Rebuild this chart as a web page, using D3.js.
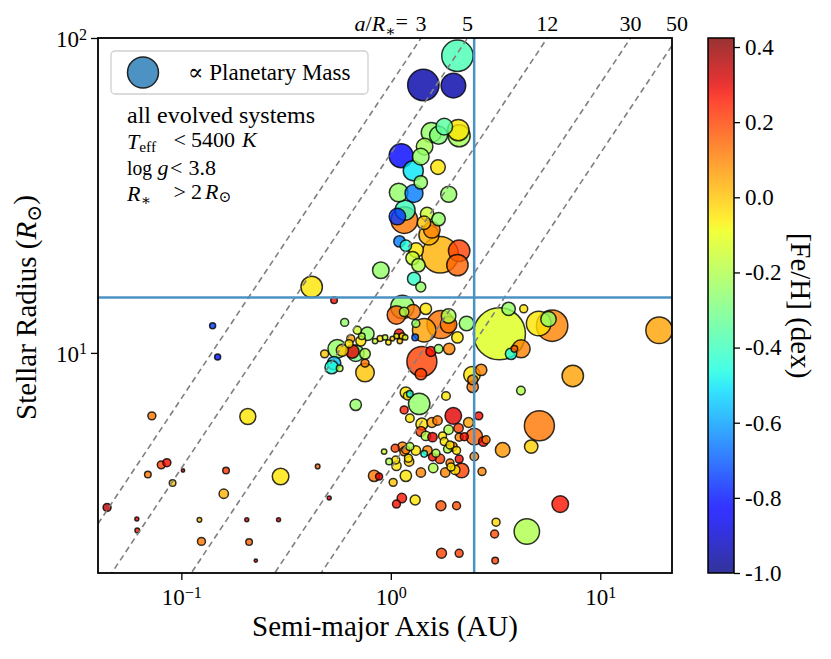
<!DOCTYPE html>
<html>
<head>
<meta charset="utf-8">
<script src="https://cdn.jsdelivr.net/npm/d3@7"></script>
<style>
  body { margin: 0; background: #fff; }
  svg text { font-family: "Liberation Serif", "DejaVu Serif", serif; }
</style>
</head>
<body>
<script>
// planets: semi-major axis (AU), host radius (Rsun), mass (~MJup), host [Fe/H]
const semiMajorAU = [
  2.08, 1.43, 1.99, 2.12, 2.10, 1.56, 1.80, 1.69, 1.45, 1.12, 1.39, 1.28, 1.68, 1.39, 1.09, 1.29, 1.89,
  1.16, 1.17, 1.075, 1.49, 1.69, 1.44, 1.57, 1.52, 1.72, 2.12, 2.08, 1.10, 1.18, 1.32, 1.27, 1.355,
  1.29, 0.896, 1.39, 0.419, 0.536,
  1.136, 1.064, 1.158, 1.278, 1.47, 1.735, 1.887, 1.887, 2.30, 1.443, 1.317, 1.307, 2.08, 1.90, 1.407,
  1.554, 1.69, 1.392, 3.30, 3.65, 4.31, 5.89, 5.08, 5.66, 4.19, 3.75, 3.89, 19.1, 7.39, 4.18, 2.44,
  2.70, 2.46, 2.46,
  0.602, 0.555, 0.773, 0.692, 0.719, 0.644, 0.680, 0.655, 0.587, 0.753, 0.753, 0.483, 0.536, 0.522,
  0.570, 0.753, 0.632, 0.727, 0.841, 0.889, 0.939, 0.974, 1.018, 1.064, 1.096, 1.136, 1.171, 1.104,
  0.141, 0.149, 0.0723, 0.2076, 0.680, 0.0802, 0.0853, 0.0692, 0.1018, 0.1634, 0.2977, 0.4474, 0.832,
  0.0908, 0.1594, 0.0442, 0.0613, 0.0616, 0.122, 0.2053, 0.2911, 0.508, 0.1247, 0.2106, 0.2267,
  1.18, 1.233, 1.20, 1.366, 1.834, 1.158, 1.233, 1.987, 2.63, 1.407, 1.571, 1.671, 2.35, 1.887, 2.106,
  2.504, 2.765, 2.85, 1.392, 1.47, 1.581, 1.766, 1.799, 2.12, 2.243, 5.12, 3.42, 4.68,
  0.929, 1.049, 1.136, 1.18, 1.233, 1.317, 1.443, 1.496, 1.581, 1.642, 1.716, 1.866, 1.916, 2.06, 1.971,
  2.12, 2.504, 0.981, 1.056, 1.064, 1.214, 1.223, 1.158, 1.916, 1.937, 2.03, 1.819, 1.594, 1.392,
  2.177, 2.725, 1.18, 1.026, 0.879, 1.129, 1.064, 1.307, 1.735, 2.06, 6.44, 3.18, 3.13, 4.46, 1.746,
  2.12, 3.15
];
const stellarRadius = [
  87.8, 70.9, 70.6, 48.9, 51.0, 50.1, 52.3, 49.1, 45.2, 42.3, 42.0, 37.9, 38.9, 34.8, 32.3, 32.1, 31.9,
  26.4, 28.4, 27.1, 27.6, 26.6, 25.9, 24.6, 23.7, 20.5, 21.1, 19.0, 22.6, 21.9, 21.2, 20.0, 19.0,
  17.2, 18.3, 16.2, 16.2, 14.7,
  14.0, 13.2, 13.5, 13.5, 13.8, 12.3, 13.1, 12.3, 12.4, 11.8, 12.4, 11.2, 11.2, 10.3, 9.39,
  10.1, 10.3, 8.56, 11.5, 13.8, 13.8, 12.2, 12.4, 12.8, 10.3, 9.93, 10.3, 11.8, 8.45, 7.59, 8.52,
  8.83, 8.21, 7.80,
  12.5, 10.3, 11.5, 11.8, 10.9, 11.1, 9.98, 10.1, 10.2, 9.93, 9.28, 9.93, 9.28, 9.01,
  8.94, 8.66, 10.7, 11.3, 10.9, 11.1, 11.2, 10.8, 11.1, 11.3, 11.5, 11.3, 11.2, 10.9,
  12.2, 9.71, 6.31, 6.28, 6.84, 4.41, 4.48, 4.11, 4.23, 4.23, 4.05, 4.36, 4.07,
  3.86, 3.57, 3.23, 2.97, 2.73, 2.95, 2.95, 2.95, 3.46, 2.52, 2.51, 2.19,
  7.48, 7.41, 7.30, 6.89, 7.30, 6.59, 6.20, 6.31, 6.31, 5.95, 6.01, 6.10, 6.01, 5.70, 5.77,
  5.42, 5.23, 5.30, 5.63, 5.45, 5.40, 5.45, 5.23, 5.40, 5.42, 5.87, 4.92, 5.04,
  4.86, 4.98, 5.04, 4.92, 5.04, 4.90, 4.78, 4.90, 4.67, 4.80, 4.61, 4.95, 5.10, 4.90, 5.04,
  4.60, 4.69, 4.52, 4.57, 4.38, 4.63, 4.52, 4.86, 4.47, 4.34, 4.25, 4.17, 4.31, 4.17,
  4.23, 4.20, 4.07, 3.88, 4.05, 3.46, 3.31, 3.41, 3.27, 3.27, 3.31, 2.90, 2.66, 2.71, 2.31,
  2.31, 2.19
];
const planetMass = [
  6.85, 6.85, 4.2, 3.36, 3.18, 2.78, 1.91, 2.25, 1.91, 4.0, 1.91, 2.78, 1.48, 1.25, 2.4, 2.25, 1.78,
  4.91, 2.78, 1.91, 1.25, 1.25, 1.25, 1.91, 2.78, 9.3, 3.18, 3.18, 0.9, 0.9, 1.48, 1.25, 1.25,
  1.17, 1.91, 0.69, 3.18, 0.3,
  3.8, 2.4, 0.61, 1.48, 0.9, 5.44, 1.48, 1.91, 1.48, 3.8, 0.44, 0.3, 0.9, 0.9, 6.25,
  0.69, 0.51, 0.9, 18.8, 1.25, 0.44, 6.85, 4.2, 1.65, 2.25, 0.9, 0.3, 4.91, 3.18, 0.51, 1.91,
  0.9, 0.69, 0.9,
  0.44, 2.4, 1.25, 0.44, 0.69, 0.44, 1.91, 1.25, 1.0, 0.78, 0.44, 0.44, 1.25, 1.25,
  0.3, 2.4, 0.44, 0.3, 0.2, 0.25, 0.2, 0.2, 0.15, 0.2, 0.61, 0.3, 0.2, 0.2,
  0.25, 0.25, 0.44, 1.78, 0.9, 0.44, 0.44, 0.3, 0.08, 0.3, 1.91, 0.15, 0.9,
  0.3, 0.61, 0.44, 0.11, 0.15, 0.15, 0.11, 0.11, 0.11, 0.44, 0.3, 0.08,
  0.9, 0.3, 0.44, 3.18, 0.51, 0.44, 0.51, 1.91, 0.44, 1.0, 0.69, 0.61, 0.69, 0.61, 0.61,
  1.91, 0.61, 0.44, 0.69, 0.61, 0.61, 0.44, 0.44, 0.44, 0.44, 6.25, 1.48, 1.25,
  0.2, 0.44, 0.61, 0.44, 0.44, 0.61, 0.3, 0.61, 0.44, 0.44, 0.61, 0.44, 0.44, 0.44, 0.61,
  0.44, 0.51, 0.3, 0.44, 0.61, 0.44, 0.61, 0.51, 0.44, 0.44, 0.61, 0.61, 0.61, 0.61,
  1.48, 0.44, 0.9, 0.44, 0.34, 0.61, 0.44, 0.69, 0.69, 0.44, 1.91, 0.44, 0.44, 4.48, 0.69,
  0.44, 0.3
];
const metallicity = [
  -0.38, -0.95, -0.95, -0.22, -0.05, -0.25, -0.35, -0.28, -0.22, -0.82, -0.25, -0.5, -0.05, -0.25, -0.25, -0.65, -0.25,
  0.12, -0.4, -0.75, -0.15, -0.25, 0.0, 0.1, 0.03, 0.03, 0.2, 0.15, -0.65, -0.45, -0.05, -0.15, -0.2,
  -0.42, -0.25, -0.25, -0.05, 0.28,
  -0.25, 0.15, -0.2, 0.12, -0.05, 0.13, -0.2, 0.12, -0.25, 0.05, -0.25, -0.7, -0.05, 0.1, 0.2,
  0.27, -0.25, 0.2, -0.12, -0.25, -0.05, 0.1, -0.05, -0.25, 0.1, -0.45, 0.15, 0.05, 0.05, -0.2, -0.05,
  0.1, 0.1, 0.12,
  -0.25, -0.25, -0.25, -0.15, -0.05, 0.05, -0.3, 0.3, 0.0, -0.2, 0.12, 0.0, -0.55, -0.45,
  -0.2, 0.0, -0.05, -0.2, -0.15, -0.05, -0.15, -0.05, 0.0, -0.1, 0.28, -0.05, -0.1, 0.0,
  -0.75, -0.8, 0.12, -0.05, -0.25, 0.2, 0.28, 0.12, 0.35, 0.22, -0.05, 0.15, 0.12,
  0.0, 0.03, 0.35, 0.3, 0.25, 0.0, 0.3, 0.3, 0.3, 0.12, 0.15, 0.3,
  -0.05, -0.45, -0.05, -0.25, -0.05, 0.25, -0.05, 0.3, 0.28, -0.05, 0.05, 0.12, 0.05, -0.2, 0.2,
  0.15, 0.28, 0.1, 0.2, -0.2, 0.3, -0.05, -0.05, 0.1, 0.28, 0.12, 0.07, -0.02,
  -0.15, 0.2, 0.1, 0.1, -0.2, -0.05, -0.45, 0.1, 0.28, -0.2, 0.2, -0.2, -0.05, -0.05, 0.1,
  0.28, 0.1, -0.2, -0.05, -0.05, -0.05, 0.0, 0.1, 0.1, -0.05, -0.05, 0.1, -0.2, 0.1,
  0.2, 0.1, -0.05, 0.0, 0.3, 0.27, 0.28, -0.05, 0.18, 0.18, 0.27, -0.03, 0.18, -0.2, 0.2,
  0.2, 0.2
];

// a/R* guide lines, reference cuts, ticks
const ratioLines = [3, 5, 12, 30, 50];
const auInSolarRadii = 215;
const cutA = 2.5;
const cutR = 15;
const xMajor = [0.1, 1, 10];
const xMinor = [0.04, 0.05, 0.06, 0.07, 0.08, 0.09, 0.2, 0.3, 0.4, 0.5, 0.6, 0.7, 0.8, 0.9,
  2, 3, 4, 5, 6, 7, 8, 9, 20];
const yMajor = [10, 100];
const yMinor = [2, 3, 4, 5, 6, 7, 8, 9, 20, 30, 40, 50, 60, 70, 80, 90];
const cbarTicks = [-1.0, -0.8, -0.6, -0.4, -0.2, 0.0, 0.2, 0.4];

const width = 831, height = 659;
const margin = {top: 38, right: 159, bottom: 86, left: 98};

const x = d3.scaleLog([0.04, 22], [margin.left, width - margin.right]);
const y = d3.scaleLog([2, 100], [height - margin.bottom, margin.top]);
const r = d3.scaleSqrt([0, 1], [0, 6]);

// matplotlib "jet"
const jetR = d3.scaleLinear([0, 0.35, 0.66, 0.89, 1], [0, 0, 1, 1, 0.5]).clamp(true);
const jetG = d3.scaleLinear([0, 0.125, 0.375, 0.64, 0.91, 1], [0, 0, 1, 1, 0, 0]).clamp(true);
const jetB = d3.scaleLinear([0, 0.11, 0.34, 0.65, 1], [0.5, 1, 1, 0, 0]).clamp(true);
const jet = t => d3.rgb(jetR(t) * 255, jetG(t) * 255, jetB(t) * 255).formatHex();
const fehNorm = d3.scaleLinear([-1.0, 0.424], [0, 1]).clamp(true);
const color = v => jet(fehNorm(v));

const svg = d3.select("body").append("svg")
    .attr("width", width)
    .attr("height", height);

svg.append("defs").append("clipPath").attr("id", "plot")
  .append("rect")
    .attr("x", margin.left).attr("y", margin.top)
    .attr("width", width - margin.left - margin.right)
    .attr("height", height - margin.top - margin.bottom);

const planets = semiMajorAU.map((a, i) => ({
  a, R: stellarRadius[i], m: planetMass[i], feh: metallicity[i]
})).sort((p, q) => d3.descending(p.m, q.m));

// scatter
svg.append("g")
    .attr("clip-path", "url(#plot)")
  .selectAll("circle")
  .data(planets)
  .join("circle")
    .attr("cx", d => x(d.a))
    .attr("cy", d => y(d.R))
    .attr("r", d => r(d.m))
    .attr("fill", d => color(d.feh))
    .attr("fill-opacity", 0.8)
    .attr("stroke", "#000")
    .attr("stroke-opacity", 0.8)
    .attr("stroke-width", 1.5);

// lines go on top of the points
const lines = svg.append("g").attr("clip-path", "url(#plot)");
const guide = d3.line().x(d => x(d[0])).y(d => y(d[1]));
ratioLines.forEach(k => {
  lines.append("path")
    .attr("d", guide(x.domain().map(a => [a, a * auInSolarRadii / k])))
    .attr("fill", "none")
    .attr("stroke", "#7f7f7f")
    .attr("stroke-width", 1.6)
    .attr("stroke-dasharray", "6,4");
});
lines.append("line")
    .attr("x1", x(cutA)).attr("x2", x(cutA))
    .attr("y1", margin.top).attr("y2", height - margin.bottom)
    .attr("stroke", "#4c92c3").attr("stroke-width", 2.5);
lines.append("line")
    .attr("x1", margin.left).attr("x2", width - margin.right)
    .attr("y1", y(cutR)).attr("y2", y(cutR))
    .attr("stroke", "#4c92c3").attr("stroke-width", 2.5);

// axes
function powLabel(text, d) {
  const e = Math.round(Math.log10(d));
  text.text(null);
  text.append("tspan").text("10");
  text.append("tspan").attr("dy", "-0.45em").attr("font-size", "0.7em")
    .text(e < 0 ? "\u2212" + (-e) : e);
}

const xAxis = svg.append("g").attr("transform", `translate(0,${height - margin.bottom})`);
xAxis.call(d3.axisBottom(x).tickValues(xMinor).tickSize(4).tickSizeOuter(0).tickFormat(""));
xAxis.call(d3.axisBottom(x).tickValues(xMajor).tickSize(7).tickSizeOuter(0))
  .call(g => g.selectAll(".tick text").each(function(d) { powLabel(d3.select(this), d); })
    .attr("y", 32).attr("dy", null).attr("font-size", 23).attr("fill", "#000"));

const yAxis = svg.append("g").attr("transform", `translate(${margin.left},0)`);
yAxis.call(d3.axisLeft(y).tickValues(yMinor).tickSize(4).tickSizeOuter(0).tickFormat(""));
yAxis.call(d3.axisLeft(y).tickValues(yMajor).tickSize(7).tickSizeOuter(0))
  .call(g => g.selectAll(".tick text").each(function(d) { powLabel(d3.select(this), d); })
    .attr("x", -11).attr("dy", "0.36em").attr("font-size", 23).attr("fill", "#000"));

svg.selectAll(".domain").remove();
svg.selectAll(".tick line").attr("stroke", "#000").attr("stroke-width", 1.3);

svg.append("rect")
    .attr("x", margin.left).attr("y", margin.top)
    .attr("width", width - margin.left - margin.right)
    .attr("height", height - margin.top - margin.bottom)
    .attr("fill", "none").attr("stroke", "#000").attr("stroke-width", 1.8);

svg.append("text")
    .attr("x", (margin.left + width - margin.right) / 2)
    .attr("y", 636)
    .attr("text-anchor", "middle")
    .attr("font-size", 29)
    .text("Semi-major Axis (AU)");

const yl = svg.append("text")
    .attr("transform", `translate(36,${(margin.top + height - margin.bottom) / 2 + 2}) rotate(-90)`)
    .attr("text-anchor", "middle")
    .attr("font-size", 29);
yl.append("tspan").text("Stellar Radius (");
yl.append("tspan").attr("font-style", "italic").text("R");
yl.append("tspan").attr("dy", "0.25em").attr("font-size", "0.7em").text("\u2299");
yl.append("tspan").attr("dy", "-0.25em").text(")");

// a/R* labels along the top
const ratioLabels = svg.append("g").attr("font-size", 22);
ratioLines.forEach(k => {
  ratioLabels.append("text")
    .attr("x", x(100 * k / auInSolarRadii))
    .attr("y", 31)
    .attr("text-anchor", "middle")
    .text(k);
});
const aLab = ratioLabels.append("text").attr("x", 408).attr("y", 31).attr("text-anchor", "end");
aLab.append("tspan").attr("font-style", "italic").text("a");
aLab.append("tspan").text("/");
aLab.append("tspan").attr("font-style", "italic").text("R");
aLab.append("tspan").attr("dy", "0.3em").attr("font-size", "0.7em").text("\u2217");
aLab.append("tspan").attr("dy", "-0.3em").text("=");

// legend
const leg = svg.append("g");
leg.append("rect")
    .attr("x", 111).attr("y", 51).attr("width", 257).attr("height", 43).attr("rx", 4)
    .attr("fill", "#fff").attr("fill-opacity", 0.8)
    .attr("stroke", "#d0d0d0").attr("stroke-width", 1.3);
leg.append("circle")
    .attr("cx", 143).attr("cy", 72.5).attr("r", 15.5)
    .attr("fill", "#4c92c3").attr("stroke", "#222").attr("stroke-width", 1.5);
leg.append("text").attr("x", 188).attr("y", 80).attr("font-size", 23)
    .text("\u221D Planetary Mass");

// selection notes
const notes = svg.append("g").attr("font-size", 22);
notes.append("text").attr("x", 127).attr("y", 123).attr("font-size", 24).text("all evolved systems");
const t2 = notes.append("text").attr("y", 148.5);
t2.append("tspan").attr("x", 127).attr("font-style", "italic").text("T");
t2.append("tspan").attr("dy", "0.25em").attr("font-size", "0.7em").text("eff");
t2.append("tspan").attr("x", 173.5).attr("dy", "-0.25em").text("<");
t2.append("tspan").attr("x", 191).text("5400");
t2.append("tspan").attr("x", 242).attr("font-style", "italic").text("K");
const t3 = notes.append("text").attr("y", 174.5);
t3.append("tspan").attr("x", 127).attr("textLength", 25).attr("lengthAdjust", "spacingAndGlyphs").text("log");
t3.append("tspan").attr("x", 157.5).attr("font-style", "italic").text("g");
t3.append("tspan").attr("x", 170).text("<");
t3.append("tspan").attr("x", 188.5).text("3.8");
const t4 = notes.append("text").attr("y", 200.5);
t4.append("tspan").attr("x", 127).attr("font-style", "italic").text("R");
t4.append("tspan").attr("dy", "0.3em").attr("font-size", "0.7em").text("\u2217");
t4.append("tspan").attr("x", 173.5).attr("dy", "-0.3em").text(">");
t4.append("tspan").attr("x", 191).text("2");
t4.append("tspan").attr("x", 205).attr("font-style", "italic").text("R");
t4.append("tspan").attr("dy", "0.25em").attr("font-size", "0.7em").text("\u2299");

// colorbar
const cbX = 708, cbW = 26;
const cy = d3.scaleLinear([-1.0, 0.424], [height - margin.bottom, margin.top]);
const grad = svg.select("defs").append("linearGradient")
    .attr("id", "jet").attr("x1", 0).attr("x2", 0).attr("y1", 1).attr("y2", 0);
d3.range(0, 1.0001, 0.02).forEach(t => {
  grad.append("stop").attr("offset", t).attr("stop-color", jet(t)).attr("stop-opacity", 0.8);
});
svg.append("rect")
    .attr("x", cbX).attr("y", margin.top)
    .attr("width", cbW).attr("height", height - margin.top - margin.bottom)
    .attr("fill", "url(#jet)")
    .attr("stroke", "#000").attr("stroke-width", 1.5);
const cbAxis = svg.append("g").attr("transform", `translate(${cbX + cbW},0)`)
    .call(d3.axisRight(cy).tickValues(cbarTicks).tickSize(6).tickSizeOuter(0).tickFormat(d3.format(".1f")));
cbAxis.select(".domain").remove();
cbAxis.selectAll(".tick line").attr("stroke", "#000").attr("stroke-width", 1.3);
cbAxis.selectAll(".tick text")
    .attr("x", 11).attr("font-size", 23).attr("fill", "#000")
    .text(d => d3.format(".1f")(d).replace("\u2212", "-"));

svg.append("text")
    .attr("transform", `translate(791,${(margin.top + height - margin.bottom) / 2}) rotate(90)`)
    .attr("text-anchor", "middle")
    .attr("font-size", 29)
    .text("[Fe/H] (dex)");
</script>
</body>
</html>
